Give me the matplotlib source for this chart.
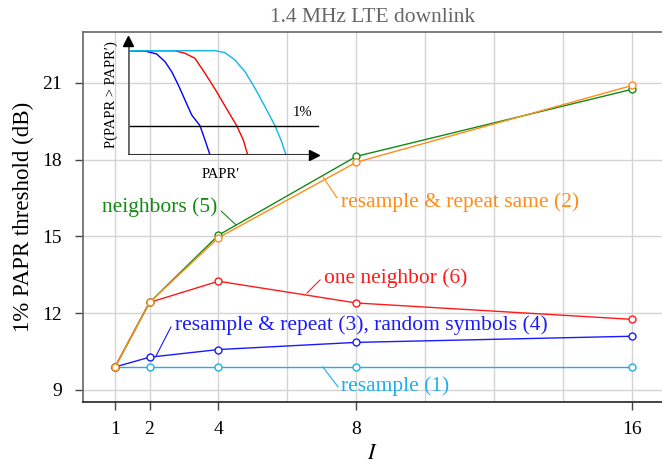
import numpy as np
import matplotlib
matplotlib.use('Agg')
import matplotlib.pyplot as plt

plt.rcParams['font.family'] = ['Liberation Serif', 'DejaVu Serif']
plt.rcParams['mathtext.fontset'] = 'stix'

I = [1, 2, 4, 8, 16]
resample = [9.9, 9.9, 9.9, 9.9, 9.9]
rr_random = [9.9, 10.28, 10.58, 10.86, 11.1]
one_neighbor = [9.9, 12.42, 13.25, 12.4, 11.76]
neighbors = [9.9, 12.42, 15.05, 18.13, 20.75]
rr_same = [9.9, 12.42, 14.95, 17.9, 20.9]

# inset sketch (schematic CCDF curves)
blue_x = [0, 1.67, 2.84, 3.67, 4.34, 5.0, 5.67, 6.34, 7.17, 7.67, 8.17]
blue_y = [10.43, 10.4, 10.1, 9.33, 8.33, 7.0, 5.5, 4.0, 2.93, 1.5, 0]
red_x = [0, 4.67, 5.67, 6.67, 7.67, 8.67, 9.67, 10.84, 11.5, 11.94]
red_y = [10.43, 10.42, 10.17, 9.67, 8.17, 6.6, 4.9, 2.93, 1.5, 0]
cyan_x = [0, 7.67, 8.67, 9.67, 10.67, 11.67, 12.67, 13.67, 14.67, 15.27, 15.77]
cyan_y = [10.43, 10.43, 10.43, 10.23, 9.5, 8.33, 6.67, 4.83, 2.93, 1.5, 0]
one_pct = 2.93

c_green = '#138a13'
c_orange = '#ff8c1a'
c_red = '#ff1a1a'
c_blue = '#1a1aff'
c_cyan = '#1eb0ea'

W, H = 662, 466
fig = plt.figure(figsize=(W/100, H/100), dpi=100)
ax = fig.add_axes([83/W, (H-402)/H, (662-83)/W, (402-32)/H])

mk = dict(marker='o', ms=5, mfc='white', mew=1, lw=1)
ax.plot(I, resample, color=c_cyan, **mk)
ax.plot(I, rr_random, color=c_blue, **mk)
ax.plot(I, one_neighbor, color=c_red, **mk)
ax.plot(I, neighbors, color=c_green, **mk)
ax.plot(I, rr_same, color=c_orange, **mk)

ax.set_xlim(0.07, 16.87)
ax.set_ylim(8.53, 22.99)
ax.set_xticks(I)
ax.set_xticks([6, 10, 12, 14], minor=True)
ax.set_yticks([9, 12, 15, 18, 21])
ax.grid(True, which='both', color='#d4d4d4', lw=1)
ax.set_axisbelow(True)
ax.tick_params(which='major', direction='out', length=6, width=1, color='#444', labelsize=14)
ax.tick_params(axis='y', pad=9)
ax.tick_params(axis='x', pad=8)
ax.tick_params(which='minor', length=0)
ax.spines['right'].set_visible(False)
ax.spines['top'].set_color('#666')
ax.spines['left'].set_color('#666')
ax.spines['bottom'].set_color('#222')
for s in ax.spines.values():
    s.set_linewidth(1.2)

ax.set_xlabel('$I$', fontsize=16, labelpad=5)
ax.set_ylabel('1% PAPR threshold (dB)', fontsize=16.5, labelpad=6)
ax.set_title('1.4 MHz LTE downlink', color='#666', fontsize=15.5, pad=7)

# leader lines and labels
def note(text, p0, p1, pt, color, ha='left'):
    ax.plot([p0[0], p1[0]], [p0[1], p1[1]], color=color, lw=0.8)
    ax.text(pt[0], pt[1], text, color=color, fontsize=15.5, ha=ha, va='center')

note('neighbors (5)', (4.51, 15.45), (4.08, 15.99), (3.98, 16.15), c_green, ha='right')
note('resample & repeat same (2)', (7.03, 17.33), (7.44, 16.51), (7.56, 16.35), c_orange)
note('one neighbor (6)', (6.57, 12.79), (6.95, 13.30), (7.06, 13.36), c_red)
note('resample & repeat (3), random symbols (4)', (2.19, 10.33), (2.62, 11.46), (2.74, 11.52), c_blue)
note('resample (1)', (7.03, 9.9), (7.47, 9.12), (7.56, 9.16), c_cyan)

# inset
ins = fig.add_axes([128.3/W, (H-155)/H, 200/W, 120/H])
ins.set_xlim(0, 20)
ins.set_ylim(0, 12)
ins.axis('off')
ins.plot(blue_x, blue_y, color='#0000ff', lw=1)
ins.plot(red_x, red_y, color='#ff0000', lw=1)
ins.plot(cyan_x, cyan_y, color='#12b4ec', lw=1)
ins.plot([0, 18.97], [one_pct, one_pct], color='k', lw=1)
ins.plot([0, 0], [0, 11.2], color='#666', lw=2, solid_capstyle='butt')
ins.plot([0, 18.4], [0, 0], color='#333', lw=1.5, solid_capstyle='butt')
ins.plot(0, 11.4, marker='^', color='k', ms=7, clip_on=False)
ins.plot(18.55, 0, marker='>', color='k', ms=7, clip_on=False)
ins.text(17.4, 4.3, '1%', fontsize=10.5, ha='center', va='center')
ins.text(-1.7, 6.0, 'P(PAPR > PAPR\u2032)', fontsize=10.5, rotation=90,
         ha='center', va='center')
ins.text(9.2, -1.9, 'PAPR\u2032', fontsize=10.5, ha='center', va='center')

fig.savefig('out.png', dpi=100)
